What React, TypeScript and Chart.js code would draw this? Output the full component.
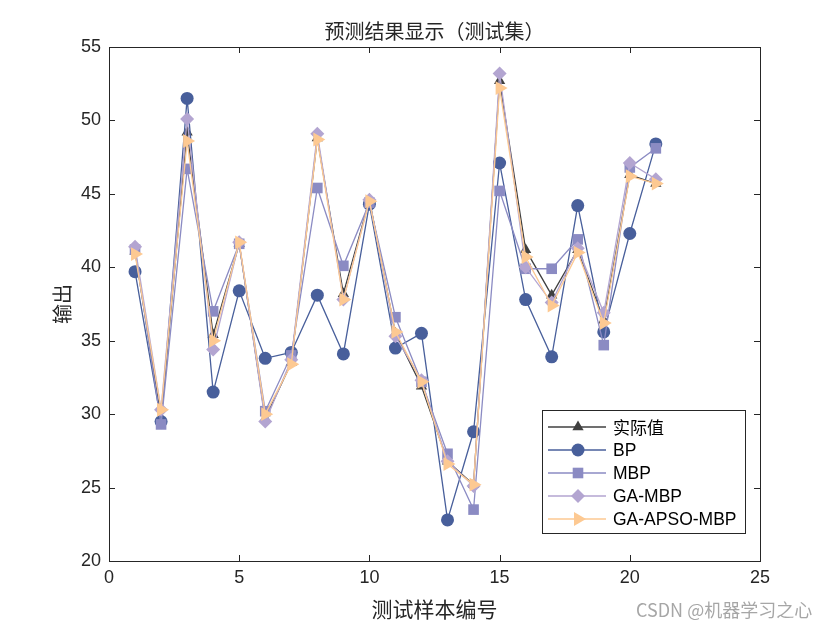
import React, { useEffect, useRef } from "react";
import { Chart, registerables } from "chart.js";

Chart.register(...registerables);

const sampleIdx = [1, 2, 3, 4, 5, 6, 7, 8, 9, 10, 11, 12, 13, 14, 15, 16, 17, 18, 19, 20, 21];
const actualVals = [41.1, 29.7, 49.2, 35.4, 41.6, 29.7, 33.5, 48.8, 38.2, 44.6, 35.5, 31.9, 26.8, 25.2, 52.7, 41.2, 38.1, 41.2, 36.4, 46.3, 45.7];
const bpVals = [39.7, 29.5, 51.5, 31.5, 38.4, 33.8, 34.2, 38.1, 34.1, 44.3, 34.5, 35.5, 22.8, 28.8, 47.1, 37.8, 33.9, 44.2, 35.6, 42.3, 48.4];
const mbpVals = [41.2, 29.3, 46.7, 37.0, 41.6, 30.2, 34.0, 45.4, 40.1, 44.4, 36.6, 32.2, 27.3, 23.5, 45.2, 39.9, 39.9, 41.9, 34.7, 46.8, 48.1];
const gaMbpVals = [41.4, 30.3, 50.1, 34.4, 41.7, 29.5, 33.7, 49.1, 37.8, 44.6, 35.3, 32.3, 26.8, 25.1, 53.2, 40.0, 37.6, 41.3, 36.9, 47.1, 46.0];
const apsoVals = [40.9, 30.3, 48.6, 35.0, 41.7, 30.0, 33.4, 48.7, 37.8, 44.5, 35.6, 32.2, 26.6, 25.2, 52.2, 40.7, 37.4, 41.0, 36.2, 46.2, 45.7];

const seriesNames = ["实际值", "BP", "MBP", "GA-MBP", "GA-APSO-MBP"];
const titleText = "预测结果显示（测试集）";
const xTitle = "测试样本编号";
const yTitle = "输出";
const watermark = "CSDN @机器学习之心";

const colors = ["#404040", "#485f9b", "#8b8bc3", "#b3a5d1", "#fdc992"];
const styles = ["triangle", "circle", "rect", "rectRot", "triangle"];
const rotations = [0, 0, 0, 0, 90];
const radii = [6.5, 6.5, 7.5, 7, 8];

const FONT = "Arial, 'Liberation Sans', sans-serif";
const CJK = "'Noto Sans CJK SC', sans-serif";

function drawMarker(ctx: CanvasRenderingContext2D, style: string, rot: number, r: number, x: number, y: number, color: string) {
  ctx.save();
  ctx.fillStyle = color;
  ctx.translate(x, y);
  ctx.rotate((rot * Math.PI) / 180);
  ctx.beginPath();
  if (style === "circle") {
    ctx.arc(0, 0, r, 0, Math.PI * 2);
  } else if (style === "rect") {
    const s = r * Math.SQRT1_2;
    ctx.rect(-s, -s, 2 * s, 2 * s);
  } else if (style === "rectRot") {
    ctx.moveTo(0, -r);
    ctx.lineTo(r, 0);
    ctx.lineTo(0, r);
    ctx.lineTo(-r, 0);
    ctx.closePath();
  } else {
    ctx.moveTo(0, -r);
    ctx.lineTo(r * Math.sin(Math.PI / 3), r * 0.5);
    ctx.lineTo(-r * Math.sin(Math.PI / 3), r * 0.5);
    ctx.closePath();
  }
  ctx.fill();
  ctx.restore();
}

const overlayPlugin = {
  id: "overlay",
  afterDraw(chart: any) {
    const ctx: CanvasRenderingContext2D = chart.ctx;
    const a = chart.chartArea;
    const xs = chart.scales.x;
    const ys = chart.scales.y;
    ctx.save();
    ctx.strokeStyle = "#262626";
    ctx.lineWidth = 1;
    ctx.strokeRect(Math.round(a.left) + 0.5, Math.round(a.top) + 0.5, Math.round(a.right - a.left), Math.round(a.bottom - a.top));
    const tl = 6;
    ctx.beginPath();
    xs.ticks.forEach((t: any) => {
      const px = Math.round(xs.getPixelForValue(t.value)) + 0.5;
      ctx.moveTo(px, a.bottom);
      ctx.lineTo(px, a.bottom - tl);
      ctx.moveTo(px, a.top);
      ctx.lineTo(px, a.top + tl);
    });
    ys.ticks.forEach((t: any) => {
      const py = Math.round(ys.getPixelForValue(t.value)) + 0.5;
      ctx.moveTo(a.left, py);
      ctx.lineTo(a.left + tl, py);
      ctx.moveTo(a.right, py);
      ctx.lineTo(a.right - tl, py);
    });
    ctx.stroke();

    ctx.fillStyle = "#262626";
    ctx.textAlign = "center";
    ctx.textBaseline = "middle";
    ctx.font = `20px ${CJK}`;
    ctx.fillText(titleText, (a.left + a.right) / 2, 31);
    ctx.font = `21px ${CJK}`;
    ctx.fillText(xTitle, (a.left + a.right) / 2, 609);
    ctx.save();
    ctx.translate(62, (a.top + a.bottom) / 2);
    ctx.rotate(-Math.PI / 2);
    ctx.font = `20px ${CJK}`;
    ctx.fillText(yTitle, 0, 0);
    ctx.restore();

    const lx = 542, ly = 410, lw = 203, lh = 123;
    ctx.fillStyle = "#ffffff";
    ctx.fillRect(lx, ly, lw, lh);
    ctx.strokeStyle = "#262626";
    ctx.lineWidth = 1;
    ctx.strokeRect(lx + 0.5, ly + 0.5, lw, lh);
    for (let i = 0; i < seriesNames.length; i++) {
      const cy = ly + 17 + i * 23;
      ctx.strokeStyle = colors[i];
      ctx.lineWidth = 1.3;
      ctx.beginPath();
      ctx.moveTo(lx + 6, cy);
      ctx.lineTo(lx + 64, cy);
      ctx.stroke();
      drawMarker(ctx, styles[i], rotations[i], radii[i], lx + 36, cy, colors[i]);
      ctx.fillStyle = "#000000";
      ctx.textAlign = "left";
      ctx.textBaseline = "middle";
      ctx.font = i === 0 ? `17px ${CJK}` : `17.5px ${FONT}`;
      ctx.fillText(seriesNames[i], lx + 71, cy + 1);
    }

    ctx.fillStyle = "rgba(150,150,150,0.85)";
    ctx.font = `18px ${CJK}`;
    ctx.textAlign = "left";
    ctx.fillText(watermark, 636, 610);
    ctx.restore();
  },
};

export default function App() {
  const ref = useRef<HTMLCanvasElement | null>(null);
  useEffect(() => {
    if (!ref.current) return;
    const all = [actualVals, bpVals, mbpVals, gaMbpVals, apsoVals];
    const datasets = all.map((vals, i) => ({
      label: seriesNames[i],
      data: sampleIdx.map((x, j) => ({ x, y: vals[j] })),
      borderColor: colors[i],
      backgroundColor: colors[i],
      pointBackgroundColor: colors[i],
      pointBorderColor: colors[i],
      pointBorderWidth: 0,
      pointStyle: styles[i] as any,
      pointRotation: rotations[i],
      pointRadius: radii[i],
      borderWidth: 1.3,
      tension: 0,
      order: 10 - i,
    }));
    const chart = new Chart(ref.current, {
      type: "line",
      data: { datasets },
      options: {
        animation: false,
        responsive: false,
        devicePixelRatio: 1,
        layout: { padding: { top: 47, right: 80, left: 0, bottom: 0 } },
        plugins: { legend: { display: false }, title: { display: false }, tooltip: { enabled: false } },
        scales: {
          x: {
            type: "linear",
            min: 0,
            max: 25,
            ticks: { stepSize: 5, color: "#262626", font: { size: 18, family: FONT }, padding: 6 },
            grid: { display: false, drawTicks: false },
            border: { display: false },
            afterFit: (s: any) => { s.height = 69; },
          },
          y: {
            min: 20,
            max: 55,
            ticks: { stepSize: 5, color: "#262626", font: { size: 18, family: FONT }, padding: 8 },
            grid: { display: false, drawTicks: false },
            border: { display: false },
            afterFit: (s: any) => { s.width = 109; },
          },
        },
      },
      plugins: [overlayPlugin],
    });
    return () => chart.destroy();
  }, []);
  return (
    <div style={{ position: "fixed", left: 0, top: 0, width: 840, height: 630, background: "#fff" }}>
      <canvas ref={ref} width={840} height={630} style={{ width: 840, height: 630 }} />
    </div>
  );
}
